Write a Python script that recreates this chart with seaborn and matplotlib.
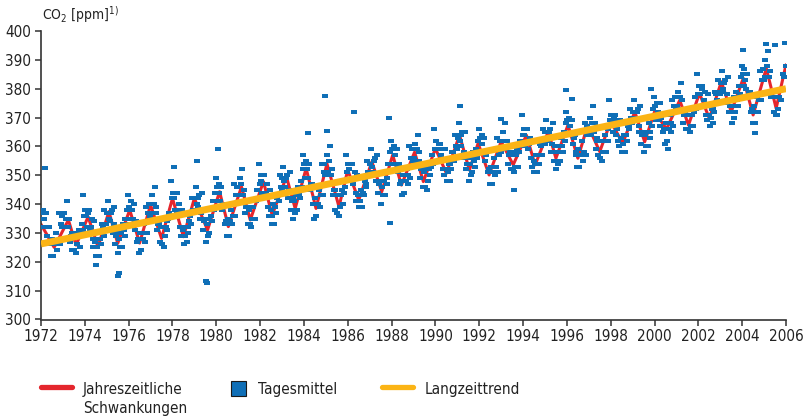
import matplotlib
matplotlib.use("Agg")
import matplotlib.pyplot as plt
from matplotlib.lines import Line2D
from matplotlib.patches import Rectangle
import pandas as pd
import seaborn as sns

# Tagesmittel: 24 Werte pro Jahr (etwa halbmonatlich)
jahre = list(range(1972, 2006))
tagesmittel = [
    [337,332,338,335,332,337,329,332,332,326,326,322,328,322,326,326,330,324,327,337,326,333,336,332],  # 1972
    [332,337,332,335,341,332,335,327,329,330,324,329,324,330,323,326,329,331,325,330,333,331,343,336],  # 1973
    [338,336,332,337,338,331,332,335,328,325,334,327,322,325,328,322,328,326,333,332,329,338,333,333],  # 1974
    [337,341,335,334,337,338,330,333,339,326,329,330,323,328,325,330,325,333,331,329,335,333,338,343],  # 1975
    [339,335,341,338,335,340,331,334,334,327,328,323,330,324,328,328,333,327,330,339,330,337,340,336],  # 1976
    [337,343,337,340,346,337,339,331,333,333,327,332,326,332,325,329,332,334,331,335,337,336,348,342],  # 1977
    [344,342,338,344,344,337,338,340,332,329,338,331,326,329,332,327,332,330,334,336,333,342,338,338],  # 1978
    [342,346,340,339,342,343,335,337,344,331,334,335,327,333,329,335,330,338,336,334,341,338,344,349],  # 1979
    [346,341,347,344,341,346,338,340,340,333,334,329,335,329,334,333,338,333,336,347,336,343,346,343],  # 1980
    [343,349,343,347,352,343,345,337,339,339,333,338,333,339,332,335,339,341,335,341,345,342,354,347],  # 1981
    [350,348,344,350,350,343,344,347,339,336,345,338,333,336,340,333,339,337,342,343,341,350,346,345],  # 1982
    [349,353,348,346,349,350,342,345,351,338,341,342,335,341,337,343,338,346,343,342,348,346,352,357],  # 1983
    [354,349,355,352,349,354,345,347,347,340,340,335,342,336,340,340,345,339,343,354,343,351,354,350],  # 1984
    [351,357,351,355,360,350,352,343,345,345,338,343,337,343,336,339,343,345,340,344,348,346,357,351],  # 1985
    [354,352,348,354,354,347,349,351,344,341,350,343,339,341,345,339,344,343,348,347,346,355,351,350],  # 1986
    [354,359,353,351,355,356,348,350,357,344,347,348,340,346,343,348,343,351,349,347,354,351,358,362],  # 1987
    [359,354,360,357,354,359,351,353,354,347,348,343,350,344,348,348,352,347,350,360,349,356,359,355],  # 1988
    [356,361,355,359,364,355,358,349,352,352,346,351,346,352,345,348,352,354,350,353,357,354,366,359],  # 1989
    [362,359,355,361,361,355,357,359,352,350,359,352,348,351,354,348,354,352,358,358,355,364,360,359],  # 1990
    [363,368,362,360,364,365,356,358,365,352,354,356,348,354,350,356,351,358,355,353,359,356,362,366],  # 1991
    [363,358,364,361,358,363,355,357,358,351,352,347,353,347,351,351,356,350,353,363,351,357,362,358],  # 1992
    [359,365,359,362,368,359,362,354,357,358,352,357,352,358,351,353,357,359,353,358,362,360,371,364],  # 1993
    [366,364,360,366,366,359,361,363,356,353,362,355,351,354,357,351,357,354,361,360,357,366,362,361],  # 1994
    [365,369,363,362,365,366,358,361,368,355,358,360,352,358,354,360,355,363,360,358,365,362,368,372],  # 1995
    [369,364,370,367,364,369,361,363,364,357,358,353,359,353,357,357,362,355,358,368,357,364,367,364],  # 1996
    [365,370,364,368,374,365,368,359,362,363,357,362,356,362,355,358,362,364,358,362,366,362,376,369],  # 1997
    [371,369,365,370,371,364,366,369,362,360,369,363,358,361,364,358,364,362,367,367,366,373,370,368],  # 1998
    [372,376,370,369,372,373,365,367,374,361,364,365,358,364,360,365,360,368,365,363,370,367,373,377],  # 1999
    [374,369,375,372,369,375,367,370,371,365,366,361,368,362,366,366,371,365,368,376,367,374,377,373],  # 2000
    [374,379,373,377,382,373,376,368,371,372,366,371,366,371,365,367,371,373,367,372,377,373,385,378],  # 2001
    [381,378,374,380,381,374,376,379,371,369,378,371,367,370,373,368,373,372,379,378,376,383,379,378],  # 2002
    [382,386,380,379,382,383,375,378,384,372,374,376,368,374,370,377,372,379,376,374,381,378,384,388],  # 2003
    [385,381,387,383,380,385,377,379,379,372,373,368,374,368,372,372,377,372,376,386,376,383,387,383],  # 2004
    [384,390,384,388,393,384,386,377,379,379,372,377,371,377,371,373,377,380,376,380,385,384,396,388],  # 2005
]

# einzelne Ausreisser
ausreisser_t = [1972.2, 1974.5, 1975.5, 1975.55, 1978.05, 1979.1, 1979.55, 1979.57, 1980.1, 1984.2,
                1984.96, 1985.05, 1986.3, 1987.9, 1987.92, 1991.1, 1993.0, 1993.6, 1995.95, 1996.25,
                1999.85, 2000.6, 2004.05, 2004.6, 2005.1, 2005.5]
ausreisser_ppm = [352.5, 319, 315, 316, 353, 355, 313.5, 312.5, 359, 364.5,
                  377.5, 365.5, 372, 370, 333.5, 374, 369.5, 345, 379.5, 376.5,
                  380, 359, 393.5, 364.5, 395.5, 395]

# Jahreszeitliche Schwankungen (Maxima / Minima)
saison_t = [1972.0, 1972.6, 1973.25, 1973.6, 1974.15, 1974.6, 1975.1, 1975.5, 1976.05, 1976.5,
            1977.0, 1977.5, 1978.0, 1978.5, 1979.0, 1979.6, 1980.15, 1980.55, 1981.15, 1981.55,
            1982.15, 1982.55, 1983.2, 1983.6, 1984.1, 1984.55, 1985.05, 1985.6, 1986.0, 1986.5,
            1987.1, 1987.55, 1988.05, 1988.45, 1989.05, 1989.45, 1990.0, 1990.5, 1991.1, 1991.55,
            1991.95, 1992.45, 1993.0, 1993.55, 1994.15, 1994.55, 1995.15, 1995.5, 1996.05, 1996.5,
            1996.95, 1997.5, 1998.0, 1998.55, 1999.1, 1999.55, 2000.0, 2000.55, 2001.15, 2001.55,
            2002.05, 2002.5, 2003.05, 2003.5, 2004.05, 2004.5, 2005.1, 2005.55, 2006.0]
saison_ppm = [333, 325, 334.5, 325.8, 335.6, 325.2, 337.4, 326.4, 338, 326.5,
              339.7, 328.1, 342, 328.7, 342, 331, 344.3, 332.2, 346, 334.5,
              347.8, 336.2, 349.5, 338.5, 352.4, 338.5, 354, 339.1, 351.8, 341.4,
              354.7, 344.3, 357, 346.6, 358, 347.8, 359.3, 350.7, 363.9, 351.8,
              361.1, 350.1, 361.7, 353.6, 363.9, 353.6, 365.1, 355.9, 367.4, 355.9,
              367.4, 358.2, 368.6, 361.1, 372, 361.6, 372, 366, 376, 367.4,
              378.4, 369.7, 382.4, 372, 383.6, 370.9, 387.1, 373.2, 388.3]

# Langzeittrend
trend_t = [1972, 2006]
trend_ppm = [326.2, 380]

x_ticks = list(range(1972, 2007, 2))
y_ticks = list(range(300, 401, 10))

BLUE = "#0f6fb7"
RED = "#e4262d"
ORANGE = "#fbb415"
INK = "#222222"
W, H = 807, 416

sns.set_style("ticks")
plt.rcParams["font.family"] = ["Liberation Sans Narrow", "DejaVu Sans"]
plt.rcParams["font.stretch"] = "condensed"
plt.rcParams["mathtext.fontset"] = "custom"
plt.rcParams["mathtext.rm"] = "DejaVu Sans:stretch=condensed"

rows = []
for jahr, werte in zip(jahre, tagesmittel):
    for i, v in enumerate(werte):
        rows.append((jahr + (i + 0.5) / len(werte), v))
for t, v in zip(ausreisser_t, ausreisser_ppm):
    rows.append((t, v))
daily = pd.DataFrame(rows, columns=["jahr", "ppm"])

fig = plt.figure(figsize=(W / 100, H / 100), dpi=100)
ax = fig.add_axes([41 / W, 96.5 / H, 745 / W, 288.5 / H])

sns.lineplot(x=saison_t, y=saison_ppm, color=RED, lw=2.2, ax=ax, zorder=2)
dash = [(-1, -0.6), (1, -0.6), (1, 0.6), (-1, 0.6)]
sns.scatterplot(data=daily, x="jahr", y="ppm", marker=dash, s=14, color=BLUE,
                linewidth=0, ax=ax, zorder=3)
sns.lineplot(x=trend_t, y=trend_ppm, color=ORANGE, lw=5, ax=ax, zorder=4,
             solid_capstyle="butt")

ax.set_xlim(1972, 2006)
ax.set_ylim(300, 400)
ax.set_xticks(x_ticks)
ax.set_xticklabels([str(x) for x in x_ticks])
ax.set_yticks(y_ticks)
ax.set_yticklabels([str(y) for y in y_ticks])
ax.set_xlabel("")
ax.set_ylabel("")
sns.despine(ax=ax)
for side in ["left", "bottom"]:
    ax.spines[side].set_color("#333333")
    ax.spines[side].set_linewidth(1.2)
ax.tick_params(axis="both", length=4, width=1.1, color="#333333",
               labelsize=11, labelcolor=INK, pad=3)

def fx(x):
    return x / W

def fy(y):
    return 1 - y / H

fig.text(fx(42), fy(20), r"CO$_\mathregular{2}$ [ppm]$^\mathregular{1)}$",
         fontsize=10, color=INK, va="baseline", ha="left")

# Legende
fig.add_artist(Line2D([fx(41), fx(72)], [fy(387), fy(387)], transform=fig.transFigure,
                      color=RED, lw=3.8, solid_capstyle="round"))
fig.text(fx(83), fy(394), "Jahreszeitliche", fontsize=11, color=INK, va="baseline")
fig.text(fx(83), fy(412.5), "Schwankungen", fontsize=11, color=INK, va="baseline")
fig.add_artist(Rectangle((fx(231), fy(396)), 15 / W, 15 / H, transform=fig.transFigure,
                         facecolor=BLUE, edgecolor="#1a1a1a", lw=0.8))
fig.text(fx(258), fy(394), "Tagesmittel", fontsize=11, color=INK, va="baseline")
fig.add_artist(Line2D([fx(382), fx(413)], [fy(387), fy(387)], transform=fig.transFigure,
                      color=ORANGE, lw=3.8, solid_capstyle="round"))
fig.text(fx(425), fy(394), "Langzeittrend", fontsize=11, color=INK, va="baseline")

fig.savefig("out.png", dpi=100)
